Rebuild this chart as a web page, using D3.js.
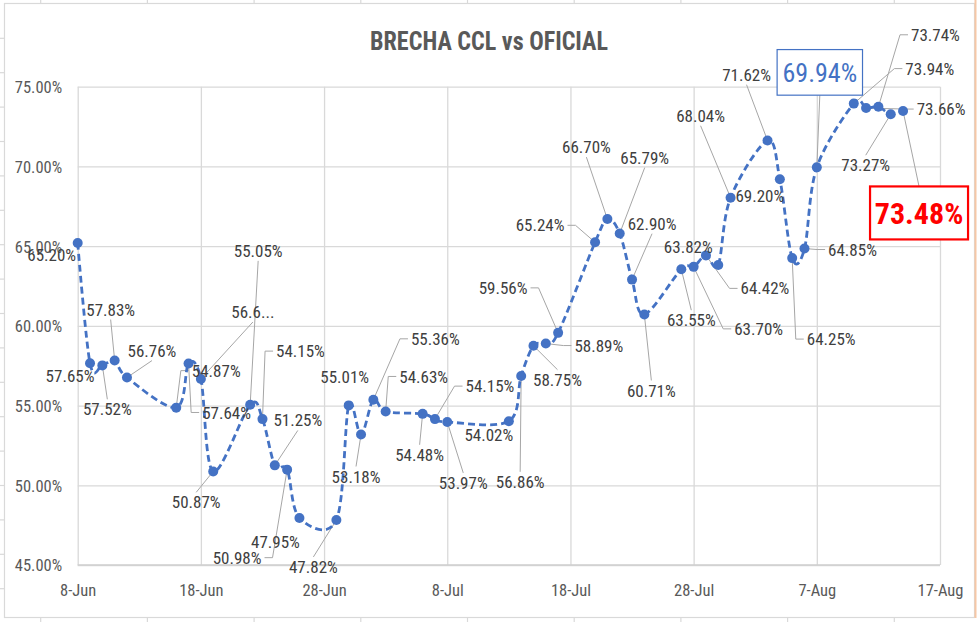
<!DOCTYPE html>
<html>
<head>
<meta charset="utf-8">
<script src="https://cdn.jsdelivr.net/npm/d3@7"></script>
<style>
  html, body { margin: 0; padding: 0; background: #ffffff; }
  svg { display: block; }
</style>
</head>
<body>
<svg id="chart" width="980" height="622"></svg>
<script>
// ---------- DATA ----------
const dates = [
  "2020-06-08","2020-06-09","2020-06-10","2020-06-11","2020-06-12",
  "2020-06-16","2020-06-17","2020-06-18","2020-06-19",
  "2020-06-22","2020-06-23","2020-06-24","2020-06-25","2020-06-26",
  "2020-06-29","2020-06-30","2020-07-01","2020-07-02","2020-07-03",
  "2020-07-06","2020-07-07","2020-07-08",
  "2020-07-13","2020-07-14","2020-07-15","2020-07-16","2020-07-17",
  "2020-07-20","2020-07-21","2020-07-22","2020-07-23","2020-07-24",
  "2020-07-27","2020-07-28","2020-07-29","2020-07-30","2020-07-31",
  "2020-08-03","2020-08-04","2020-08-05","2020-08-06","2020-08-07",
  "2020-08-10","2020-08-11","2020-08-12","2020-08-13","2020-08-14"
];
const values = [
  65.20, 57.65, 57.52, 57.83, 56.76,
  54.87, 57.64, 56.67, 50.87,
  55.05, 54.15, 51.25, 50.98, 47.95,
  47.82, 55.01, 53.18, 55.36, 54.63,
  54.48, 54.15, 53.97,
  54.02, 56.86, 58.75, 58.89, 59.56,
  65.24, 66.70, 65.79, 62.90, 60.71,
  63.55, 63.70, 64.42, 63.82, 68.04,
  71.62, 69.20, 64.25, 64.85, 69.94,
  73.94, 73.66, 73.74, 73.27, 73.48
];
const title = "BRECHA CCL vs OFICIAL";
const yTicks = [45, 50, 55, 60, 65, 70, 75];
const xTickDates = ["2020-06-08","2020-06-18","2020-06-28","2020-07-08","2020-07-18","2020-07-28","2020-08-07","2020-08-17"];
const xDomain = ["2020-06-08", "2020-08-17"];
const yDomain = [45, 75];

// ---------- LABEL LAYOUT (offset of label centre from its point, leader flag, style) ----------
const labelLayout = [
  [-26, 12, 0], [-20, 13, 0], [5, 44, 1], [-4, -51, 1], [25, -27, 1],
  [40, -37, 1], [38, 49, 1], [52, -67, 1, "trunc"], [-17, 31, 1],
  [8, -154, 1], [38, -68, 1], [23, -45, 1], [-50, 88, 1], [-24, 24, 0],
  [-23, 47, 1], [-4, -28, 0], [-5, 42, 1], [62, -61, 1], [38, -35, 1],
  [-3, 41, 1], [55, -33, 1], [16, 61, 1],
  [-20, 14, 0], [-1, 106, 1], [24, 34, 1], [53, 2, 1], [-55, -45, 1],
  [-55, -17, 1], [-21, -72, 1], [25, -76, 1], [20, -56, 1], [7, 76, 1],
  [10, 51, 1], [65, 62, 1], [59, 33, 1], [-30, -18, 0], [-30, -82, 1],
  [-21, -66, 1], [-20, 17, 0], [39, 81, 1], [48, 1, 1], [3, -95, 1, "blue"],
  [76, -35, 1], [75, 1, 1], [57, -72, 1], [-25, 51, 1], [16, 102, 1, "red"]
];

// ---------- SETUP ----------
const W = 980, H = 622;
const plot = { left: 77.7, right: 940, top: 86.7, bottom: 565 };
const labelFont = "'Liberation Sans Narrow','Arial Narrow','Roboto Condensed','Liberation Sans',sans-serif";
const parse = d3.utcParse("%Y-%m-%d");
const data = dates.map((d, i) => ({ date: parse(d), value: values[i], layout: labelLayout[i] }));

const svg = d3.select("#chart");
svg.append("rect").attr("width", W).attr("height", H).attr("fill", "#ffffff");

// spreadsheet frame decoration
const deco = svg.append("g");
deco.append("rect").attr("x", 4.5).attr("y", 3.5).attr("width", 970).attr("height", 614)
  .attr("fill", "none").attr("stroke", "#d9d9d9").attr("stroke-width", 1.2);
deco.append("line").attr("x1", 975.5).attr("x2", 975.5).attr("y1", 0).attr("y2", 618)
  .attr("stroke", "#f6c7a6").attr("stroke-width", 2);
d3.range(40.7, 975, 106.7).forEach(xx => {
  deco.append("line").attr("x1", xx).attr("x2", xx).attr("y1", 0).attr("y2", 3)
    .attr("stroke", "#d9d9d9").attr("stroke-width", 1.2);
  deco.append("line").attr("x1", xx).attr("x2", xx).attr("y1", 618).attr("y2", 622)
    .attr("stroke", "#d9d9d9").attr("stroke-width", 1.2);
});
d3.range(38.3, 618, 34.4).forEach(yy => {
  deco.append("line").attr("x1", 0).attr("x2", 4).attr("y1", yy).attr("y2", yy)
    .attr("stroke", "#d9d9d9").attr("stroke-width", 1.2);
});

const x = d3.scaleUtc().domain(xDomain.map(parse)).range([plot.left, plot.right]);
const y = d3.scaleLinear().domain(yDomain).range([plot.bottom, plot.top]);

// ---------- AXES & GRID ----------
const yAxis = svg.append("g").attr("transform", `translate(${plot.left},0)`)
  .call(d3.axisLeft(y).tickValues(yTicks).tickFormat(d => d.toFixed(2) + "%")
    .tickSize(-(plot.right - plot.left)).tickPadding(15.5));
yAxis.select(".domain").remove();
yAxis.selectAll(".tick line").attr("stroke", "#d9d9d9").attr("stroke-width", 1.3);
yAxis.selectAll(".tick text").attr("fill", "#595959").attr("font-family", labelFont)
  .attr("font-size", "16.5px").attr("dy", "0.36em");

const xAxis = svg.append("g").attr("transform", `translate(0,${plot.bottom})`)
  .call(d3.axisBottom(x).tickValues(xTickDates.map(parse)).tickFormat(d3.utcFormat("%-d-%b"))
    .tickSize(-(plot.bottom - plot.top)).tickPadding(25));
xAxis.select(".domain").remove();
xAxis.selectAll(".tick line").attr("stroke", "#d9d9d9").attr("stroke-width", 1.3);
xAxis.selectAll(".tick text").attr("fill", "#595959").attr("font-family", labelFont)
  .attr("font-size", "16.5px").attr("dy", "0.36em");

svg.append("line").attr("x1", plot.left).attr("x2", plot.right)
  .attr("y1", y(yDomain[0])).attr("y2", y(yDomain[0]))
  .attr("stroke", "#cfcfcf").attr("stroke-width", 1.6);

// ---------- TITLE ----------
svg.append("text").attr("x", 489).attr("y", 49.5).attr("text-anchor", "middle")
  .attr("font-family", labelFont).attr("font-weight", "bold").attr("font-size", "26px")
  .attr("fill", "#595959").attr("textLength", 238).attr("lengthAdjust", "spacingAndGlyphs")
  .text(title);

// ---------- LABELS ----------
const leaderG = svg.append("g");
const lineG = svg.append("g");
const markG = svg.append("g");
const labelG = svg.append("g");

const fmt = v => v.toFixed(2) + "%";

data.forEach(d => {
  const [dx, dy, leader, kind] = d.layout;
  const px = x(d.date), py = y(d.value);
  const cx = px + dx, cy = py + dy;
  let txt = fmt(d.value);
  if (kind === "trunc") txt = txt.slice(0, 4) + "...";
  let fs = 17, weight = "normal", fill = "#404040";
  if (kind === "blue") { fs = 26; fill = "#4472c4"; }
  if (kind === "red") { fs = 30; fill = "#ff0000"; weight = "bold"; }
  const t = labelG.append("text").attr("x", cx).attr("y", cy + 0.358 * fs)
    .attr("text-anchor", "middle").attr("font-family", labelFont)
    .attr("font-size", fs + "px").attr("font-weight", weight).attr("fill", fill).text(txt);
  const w = t.node().getComputedTextLength();
  let halfW = w / 2 + 3, halfH = 0.358 * fs + 4;
  if (kind === "blue") {
    halfW = 42.7; halfH = 22.8;
    labelG.insert("rect", "text").attr("x", cx - halfW).attr("y", cy - halfH)
      .attr("width", 2 * halfW).attr("height", 2 * halfH)
      .attr("fill", "#ffffff").attr("stroke", "#4472c4").attr("stroke-width", 1.2);
  }
  if (kind === "red") {
    halfW = 49; halfH = 26.5;
    labelG.insert("rect", "text").attr("x", cx - halfW).attr("y", cy - halfH)
      .attr("width", 2 * halfW).attr("height", 2 * halfH)
      .attr("fill", "#ffffff").attr("stroke", "#ff0000").attr("stroke-width", 2.2);
  }
  if (leader) {
    let path;
    if (Math.abs(dx) > halfW + 6 && !kind) {
      const s = Math.sign(dx);
      const ax = cx - s * halfW;
      const ex = ax - s * 8;
      path = `M${px},${py}L${ex},${cy}L${ax},${cy}`;
    } else {
      const s = Math.sign(dy);
      const ay = cy - s * halfH;
      path = `M${px},${py}L${cx},${ay}`;
    }
    leaderG.append("path").attr("d", path).attr("fill", "none")
      .attr("stroke", "#a6a6a6").attr("stroke-width", 1);
  }
});

// ---------- LINE & MARKERS ----------
const line = d3.line().x(d => x(d.date)).y(d => y(d.value)).curve(d3.curveCardinal.tension(0));
lineG.append("path").datum(data).attr("d", line).attr("fill", "none")
  .attr("stroke", "#4472c4").attr("stroke-width", 2.8).attr("stroke-dasharray", "7,4");

markG.selectAll("circle").data(data).join("circle")
  .attr("cx", d => x(d.date)).attr("cy", d => y(d.value)).attr("r", 5)
  .attr("fill", "#4472c4");
</script>
</body>
</html>
